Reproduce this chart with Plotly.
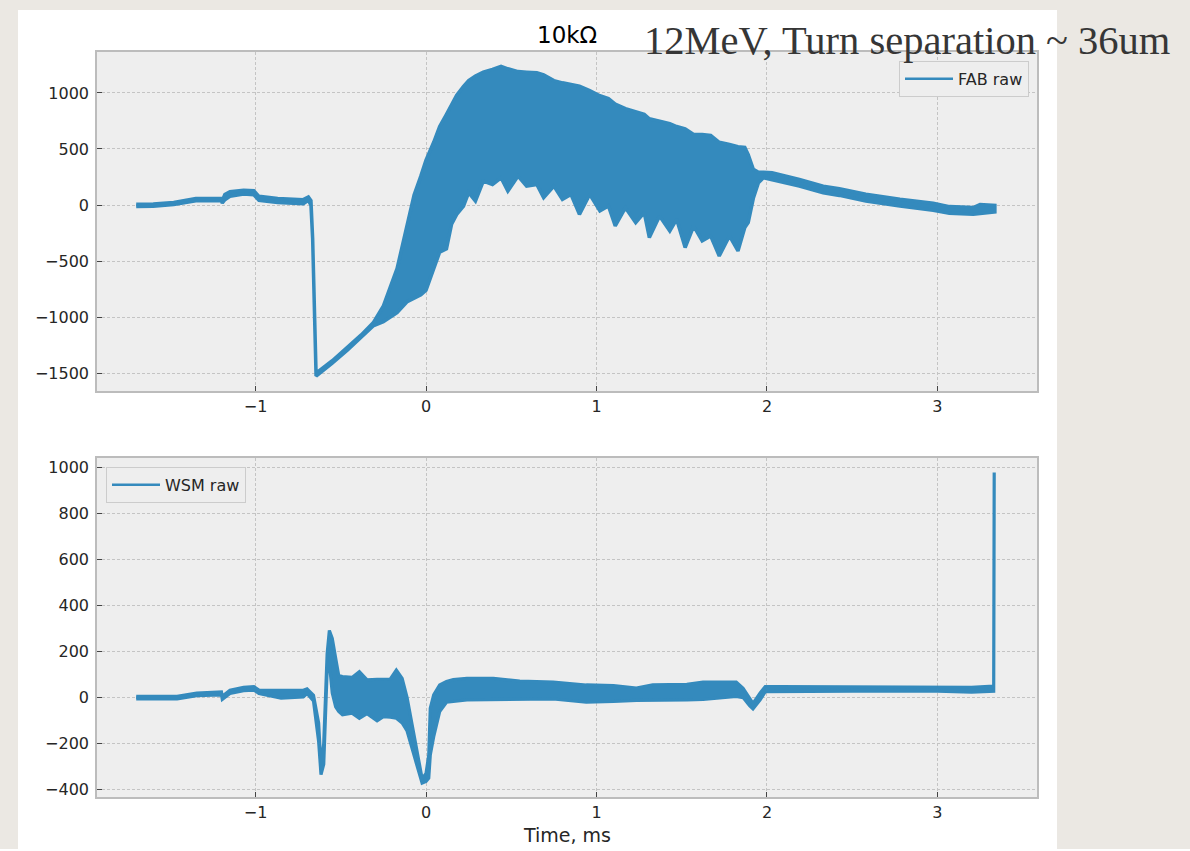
import plotly.graph_objects as go

# ---------------- data ----------------
# FAB raw: time (ms), upper and lower envelope of the dense signal
fab_t = [-1.70, -1.60, -1.48, -1.35, -1.25, -1.20, -1.195, -1.18, -1.15, -1.07,
         -1.01, -0.98, -0.87, -0.72, -0.69, -0.675, -0.665, -0.645, -0.55, -0.46,
         -0.38, -0.31, -0.25, -0.17, -0.11, -0.07, -0.03, 0.0, 0.045, 0.08,
         0.12, 0.15, 0.18, 0.22, 0.25, 0.29, 0.336, 0.39, 0.44, 0.48,
         0.54, 0.59, 0.65, 0.69, 0.75, 0.80, 0.85, 0.90, 0.96, 1.02,
         1.07, 1.11, 1.17, 1.23, 1.28, 1.31, 1.37, 1.43, 1.47, 1.52,
         1.57, 1.62, 1.67, 1.72, 1.78, 1.83, 1.87, 1.89, 1.92, 1.95,
         1.98, 2.03, 2.19, 2.33, 2.425, 2.58, 2.78, 2.975, 3.07, 3.21,
         3.25, 3.337]
fab_upper = [8, 10, 22, 58, 58, 58, 42, 95, 120, 132,
             128, 78, 58, 48, 72, 40, -300, -1500, -1388, -1268,
             -1158, -1050, -900, -567, -185, 90, 260, 400, 560, 700,
             810, 900, 980, 1059, 1110, 1150, 1185, 1210, 1237, 1215,
             1190, 1185, 1180, 1160, 1110, 1090, 1075, 1060, 1020, 975,
             950, 900, 860, 830, 810, 770, 745, 725, 700, 680,
             630, 630, 620, 560, 540, 520, 515, 450, 318, 292,
             292, 288, 228, 168, 146, 96, 52, 16, -14, -22,
             4, -4]
fab_lower = [-12, -10, 4, 38, 38, 38, 18, 48, 78, 98,
             92, 42, 22, 12, 42, 0, -300, -1525, -1410, -1292,
             -1180, -1078, -1040, -960, -861, -830, -800, -760, -560, -420,
             -390, -170, -83, -9, 110, 36, 214, 184, 243, 125,
             258, 169, 184, 65, 169, 50, 95, -83, 95, -53,
             -9, -187, -24, -157, -68, -290, -98, -231, -127, -379,
             -187, -320, -276, -454, -276, -409, -200, -157, 60, 200,
             244, 226, 170, 110, 86, 36, -8, -46, -74, -82,
             -74, -62]

# WSM raw: time (ms), upper and lower envelope
wsm_t = [-1.70, -1.46, -1.345, -1.20, -1.195, -1.15, -1.07, -1.01, -0.98, -0.85,
         -0.72, -0.698, -0.66, -0.63, -0.616, -0.60, -0.58, -0.567, -0.55, -0.53,
         -0.512, -0.49, -0.434, -0.391, -0.346, -0.287, -0.25, -0.209, -0.174, -0.14,
         -0.111, -0.063, -0.023, 0.0, 0.016, 0.025, 0.045, 0.08, 0.12, 0.16,
         0.24, 0.395, 0.55, 0.746, 0.94, 1.10, 1.234, 1.33, 1.53, 1.625,
         1.82, 1.86, 1.898, 1.918, 1.96, 1.99, 2.07, 2.5, 3.0, 3.2,
         3.33, 3.333]
wsm_upper = [6, 6, 20, 25, 6, 32, 45, 48, 33, 32,
             32, 38, 10, -110, -300, -200, 190, 292, 258, 171,
             96, 92, 88, 113, 77, 80, 80, 81, 120, 84,
             0, -191, -352, -330, -250, -46, 12, 55, 70, 78,
             84, 84, 72, 67, 55, 52, 41, 55, 58, 67,
             67, 41, -3, -25, 20, 48, 48, 48, 48, 45,
             50, 980]
wsm_lower = [-6, -6, 8, 12, -8, 18, 30, 33, 18, -2,
             3, 18, -15, -190, -335, -290, 120, 150, 20, -40,
             -60, -75, -68, -90, -70, -101, -83, -85, -90, -110,
             -145, -270, -372, -365, -350, -250, -170, -61, -20, -17,
             -10, -10, -8, -6, -20, -17, -12, -10, -10, -8,
             5, 0, -35, -49, -10, 26, 28, 28, 28, 24,
             28, 980]

x_ticks = [-1, 0, 1, 2, 3]
fab_y_ticks = [-1500, -1000, -500, 0, 500, 1000]
wsm_y_ticks = [-400, -200, 0, 200, 400, 600, 800, 1000]

# ---------------- styling ----------------
W, H = 1190, 851
BLUE = '#348ABD'
AX_BG = '#EEEEEE'
GRID = '#C4C4C4'
FRAME = '#BCBCBC'
TXT = '#262626'
SLIDE = '#EBE8E3'


def fx(p):
    return p / W


def fy(p):
    return 1 - p / H


fig = go.Figure()

fig.add_trace(go.Scatter(
    x=fab_t + fab_t[::-1], y=fab_upper + fab_lower[::-1],
    mode='lines', fill='toself', fillcolor=BLUE,
    line=dict(color=BLUE, width=3.5), showlegend=False,
    xaxis='x', yaxis='y', hoverinfo='skip'))
fig.add_trace(go.Scatter(
    x=[None], y=[None], mode='lines', line=dict(color=BLUE, width=2.4),
    name='FAB raw', xaxis='x', yaxis='y', legend='legend'))

fig.add_trace(go.Scatter(
    x=wsm_t + wsm_t[::-1], y=wsm_upper + wsm_lower[::-1],
    mode='lines', fill='toself', fillcolor=BLUE,
    line=dict(color=BLUE, width=3.2), showlegend=False,
    xaxis='x2', yaxis='y2', hoverinfo='skip'))
fig.add_trace(go.Scatter(
    x=[None], y=[None], mode='lines', line=dict(color=BLUE, width=2.4),
    name='WSM raw', xaxis='x2', yaxis='y2', legend='legend2'))

axis_common = dict(
    showline=True, mirror=True, linecolor=FRAME, linewidth=1.5,
    showgrid=True, gridcolor=GRID, gridwidth=1, griddash='3px,2px',
    zeroline=False, ticks='inside', ticklen=5, tickwidth=1.3, tickcolor='#444444',
    tickfont=dict(family='DejaVu Sans', size=16, color=TXT),
)

x_dom = [fx(97), fx(1037)]
fig.update_layout(
    width=W, height=H, autosize=False,
    margin=dict(l=0, r=0, t=0, b=0),
    paper_bgcolor='white', plot_bgcolor=AX_BG,
    xaxis=dict(domain=x_dom, anchor='y', range=[-1.930, 3.584],
               tickvals=x_ticks, ticklabelstandoff=0, **axis_common),
    yaxis=dict(domain=[fy(392), fy(52)], anchor='x', range=[-1659, 1366],
               tickvals=fab_y_ticks, ticklabelstandoff=3, **axis_common),
    xaxis2=dict(domain=x_dom, anchor='y2', range=[-1.930, 3.584],
                tickvals=x_ticks, ticklabelstandoff=0, **axis_common),
    yaxis2=dict(domain=[fy(799), fy(459)], anchor='x2', range=[-433, 1043],
                tickvals=wsm_y_ticks, ticklabelstandoff=3, **axis_common),
    legend=dict(x=fx(1029), y=fy(61), xanchor='right', yanchor='top',
                bgcolor=AX_BG, bordercolor='#CCCCCC', borderwidth=1,
                font=dict(family='DejaVu Sans', size=16, color=TXT),
                itemwidth=48),
    legend2=dict(x=fx(106), y=fy(468), xanchor='left', yanchor='top',
                 bgcolor=AX_BG, bordercolor='#CCCCCC', borderwidth=1,
                 font=dict(family='DejaVu Sans', size=16, color=TXT),
                 itemwidth=48),
    shapes=[
        dict(type='rect', xref='paper', yref='paper', x0=0, x1=fx(18), y0=0, y1=1,
             fillcolor=SLIDE, line=dict(width=0), layer='below'),
        dict(type='rect', xref='paper', yref='paper', x0=fx(1057), x1=1, y0=0, y1=1,
             fillcolor=SLIDE, line=dict(width=0), layer='below'),
        dict(type='rect', xref='paper', yref='paper', x0=0, x1=1, y0=fy(10), y1=1,
             fillcolor=SLIDE, line=dict(width=0), layer='below'),
    ],
    annotations=[
        dict(text='10kΩ', xref='paper', yref='paper', x=fx(567), y=fy(35),
             xanchor='center', yanchor='middle', showarrow=False,
             font=dict(family='DejaVu Sans', size=23, color='black')),
        dict(text='12MeV, Turn separation ~ 36um', xref='paper', yref='paper',
             x=fx(642), y=fy(41), xanchor='left', yanchor='middle', showarrow=False,
             font=dict(family='Liberation Serif', size=40.5, color='#363636')),
        dict(text='Time, ms', xref='paper', yref='paper', x=fx(567), y=fy(837),
             xanchor='center', yanchor='middle', showarrow=False,
             font=dict(family='DejaVu Sans', size=19, color=TXT)),
    ],
)

fig.write_html('out.html')
